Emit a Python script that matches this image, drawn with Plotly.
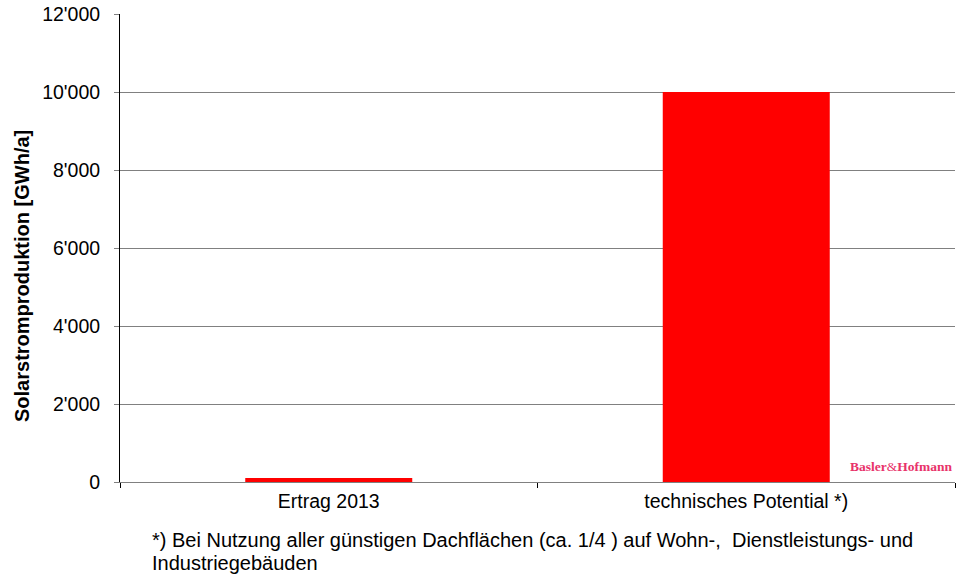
import plotly.graph_objects as go

categories = ["Ertrag 2013", "technisches Potential *)"]
values = [100, 10000]
y_ticks = [0, 2000, 4000, 6000, 8000, 10000, 12000]
y_tick_labels = ["0", "2'000", "4'000", "6'000", "8'000", "10'000", "12'000"]
footnote_lines = ["*) Bei Nutzung aller günstigen Dachflächen (ca. 1/4 ) auf Wohn-,  Dienstleistungs- und",
                  "Industriegebäuden"]
y_title = "Solarstromproduktion [GWh/a]"

W, H = 962, 574
L, R, T, B = 120, 7, 14, 92
PW, PH = W - L - R, H - T - B

fig = go.Figure(go.Bar(x=categories, y=values, marker=dict(color="#FF0000", line=dict(width=0)),
                       width=0.4))

annotations = [
    dict(text="<b>" + y_title + "</b>", xref="paper", yref="paper",
         x=(22 - L) / PW, y=(H - B - 276) / PH, xanchor="center", yanchor="middle",
         textangle=-90, showarrow=False, font=dict(size=20)),
    dict(text="<b>Basler</b>&amp;<b>Hofmann</b>", xref="paper", yref="paper",
         x=1.0, y=(482 - 466) / PH, xanchor="right", yanchor="middle",
         showarrow=False,
         font=dict(family="Liberation Serif, serif", size=13.5, color="#E8336A")),
]
for i, line in enumerate(footnote_lines):
    yc = 540 + 23 * i
    annotations.append(dict(text=line, xref="paper", yref="paper",
                            x=(150 - L) / PW, y=(H - B - yc) / PH,
                            xanchor="left", yanchor="middle", align="left", showarrow=False,
                            font=dict(size=20)))

fig.update_layout(
    width=W, height=H,
    margin=dict(l=L, r=R, t=T, b=B, autoexpand=False),
    paper_bgcolor="white", plot_bgcolor="white",
    font=dict(family="Liberation Sans, Arial, sans-serif", size=19.5, color="#000000"),
    showlegend=False,
    xaxis=dict(
        type="category", showline=True, linecolor="#808080", linewidth=1,
        ticks="outside", tickson="boundaries", ticklen=5, tickcolor="#000000",
        showgrid=False, tickfont=dict(size=19.5), range=[-0.5, 1.5],
        ticklabelstandoff=2, automargin=False,
    ),
    yaxis=dict(
        range=[0, 12000], tickvals=y_ticks, ticktext=y_tick_labels,
        showline=True, linecolor="#000000", linewidth=1,
        ticks="outside", ticklen=5, tickcolor="#808080",
        showgrid=True, gridcolor="#808080", gridwidth=1,
        zeroline=False, tickfont=dict(size=19.5), ticklabelstandoff=10,
        automargin=False,
    ),
    annotations=annotations,
)

fig.write_html("out.html")
